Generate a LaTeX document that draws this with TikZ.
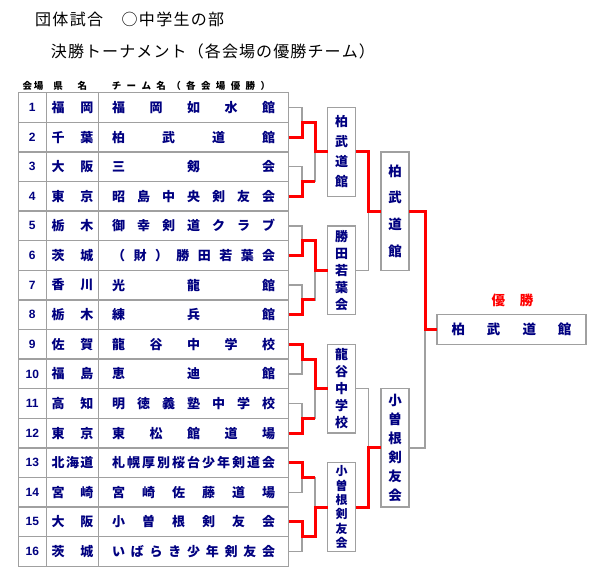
\documentclass[tikz,border=0pt]{standalone}
\usepackage{fontspec}
\setmainfont{Noto Sans CJK JP}
\newfontfamily\numfont{Liberation Sans}
\usetikzlibrary{calc}
\definecolor{tnavy}{HTML}{000080}
\definecolor{tgray}{HTML}{A0A0A0}
\definecolor{tred}{HTML}{FF0000}
% letters spread evenly over a fixed width
\makeatletter
\newcommand{\spaced}[2]{\makebox[#1]{\expandafter\spaced@next#2\relax}}
\def\spaced@next#1{#1\futurelet\spaced@tok\spaced@test}
\def\spaced@test{\ifx\spaced@tok\relax\expandafter\@gobble\else\hfill\expandafter\spaced@next\fi}
\makeatother
\tikzset{
  cell/.style={draw=tgray, line width=1.5pt, minimum height=29.6pt, inner sep=0pt,
               outer sep=0pt, text=tnavy, font=\bfseries\fontsize{13}{14}\selectfont},
  numcell/.style={cell, minimum width=28pt, font=\numfont\bfseries\fontsize{12}{12}\selectfont},
  prefcell/.style={cell, minimum width=52.4pt},
  teamcell/.style={cell, minimum width=190pt},
  winbox/.style={draw=tgray, line width=1.5pt, fill=white, minimum width=28pt, inner sep=0pt,
                 outer sep=0pt, align=center, text=tnavy},
  lose/.style={draw=tgray, line width=1.5pt},
  win/.style={draw=tred, line width=3pt},
  hdr/.style={font=\bfseries\fontsize{9.5}{11}\selectfont, inner sep=0pt},
  ttl/.style={font=\fontsize{16}{18}\selectfont, inner sep=0pt, anchor=west},
}
\begin{document}
\begin{tikzpicture}[x=1pt, y=-1pt]
  \useasboundingbox (0,0) rectangle (600,580);

  \node[ttl] (title) at (35,19) {\spaced{189pt}{団体試合　○中学生の部}};
  \node[ttl] (subtitle) at (50.7,51) {\spaced{324pt}{決勝トーナメント（各会場の優勝チーム）}};

  \node[hdr] (hvenue) at (33,86) {\spaced{20.6pt}{会場}};
  \node[hdr] (hpref) at (70.2,86) {\spaced{33.7pt}{県名}};
  \node[hdr] (hteam) at (190.9,86) {\spaced{158.3pt}{チーム名（各会場優勝）}};

  % table rows
  \foreach \i/\ken/\team in {1/福岡/福岡如水館, 2/千葉/柏武道館, 3/大阪/三剱会,
      4/東京/昭島中央剣友会, 5/栃木/御幸剣道クラブ, 6/茨城/（財）勝田若葉会,
      7/香川/光龍館, 8/栃木/練兵館, 9/佐賀/龍谷中学校, 10/福島/恵迪館,
      11/高知/明徳義塾中学校, 12/東京/東松館道場, 13/北海道/札幌厚別桜台少年剣道会,
      14/宮崎/宮崎佐藤道場, 15/大阪/小曽根剣友会, 16/茨城/いばらき少年剣友会} {
    \node[numcell] (n\i) at (32.3,{92.7+(\i-0.5)*29.6}) {\i};
    \node[prefcell] (p\i) at (72.5,{92.7+(\i-0.5)*29.6}) {\spaced{41.6pt}{\ken}};
    \node[teamcell] (t\i) at (193.7,{92.7+(\i-0.5)*29.6}) {\spaced{163pt}{\team}};
  }

  % junctions
  \foreach \p in {1,...,8} \coordinate (j\p) at (302,{92.7+(2*\p-1)*29.6});
  \foreach \q in {1,...,4} \coordinate (k\q) at (315,{92.7+(4*\q-2)*29.6});
  \coordinate (l1) at (368.3,{92.7+4*29.6});
  \coordinate (l2) at (368.3,{92.7+12*29.6});
  \coordinate (m) at (425,{92.7+8*29.6});

  % venue winners, round two, final
  \node[winbox, minimum height=88.8pt, font=\bfseries\fontsize{13}{20}\selectfont] (b1) at (341.7,{92.7+2*29.6}) {柏\\武\\道\\館};
  \node[winbox, minimum height=88.8pt, font=\bfseries\fontsize{13}{17}\selectfont] (b2) at (341.7,{92.7+6*29.6}) {勝\\田\\若\\葉\\会};
  \node[winbox, minimum height=88.8pt, font=\bfseries\fontsize{13}{17}\selectfont] (b3) at (341.7,{92.7+10*29.6}) {龍\\谷\\中\\学\\校};
  \node[winbox, minimum height=88.8pt, font=\bfseries\fontsize{12}{14.3}\selectfont] (b4) at (341.7,{92.7+14*29.6}) {小\\曽\\根\\剣\\友\\会};
  \node[winbox, minimum height=118.4pt, font=\bfseries\fontsize{13.5}{26.7}\selectfont] (c1) at (395,{92.7+4*29.6}) {柏\\武\\道\\館};
  \node[winbox, minimum height=118.4pt, font=\bfseries\fontsize{13.5}{19}\selectfont] (c2) at (395,{92.7+12*29.6}) {小\\曽\\根\\剣\\友\\会};
  \node[winbox, minimum width=149pt, minimum height=30pt, font=\bfseries\fontsize{13.5}{15}\selectfont] (champ) at (511.5,{92.7+8*29.6}) {\spaced{120pt}{柏武道館}};
  \node[font=\bfseries\fontsize{13.5}{15}\selectfont, text=tred, inner sep=0pt] (champlbl) at (512.5,300) {\spaced{41.6pt}{優勝}};

  % bracket
  \foreach \i in {1,...,16} {
    \pgfmathtruncatemacro\p{(\i+1)/2}
    \draw[lose] (t\i.east) -| (j\p);
  }
  \foreach \p in {1,...,8} {
    \pgfmathtruncatemacro\q{(\p+1)/2}
    \draw[lose] (j\p) -| (k\q);
  }
  \foreach \q in {1,...,4} {
    \pgfmathtruncatemacro\h{(\q+1)/2}
    \draw[lose] (k\q) -- (b\q.west);
    \draw[lose] (b\q.east) -| (l\h);
  }
  \foreach \h in {1,2} {
    \draw[lose] (l\h) -- (c\h.west);
    \draw[lose] (c\h.east) -| (m);
  }
  \draw[lose] (m) -- (champ.west);

  % winners
  \draw[win] (t2.east) -| (j1) -| (k1) -- (b1.west);
  \draw[win] (t4.east) -| (j2) -- (j2 -| k1);
  \draw[win] (t6.east) -| (j3) -| (k2) -- (b2.west);
  \draw[win] (t8.east) -| (j4) -- (j4 -| k2);
  \draw[win] (t9.east) -| (j5) -| (k3) -- (b3.west);
  \draw[win] (t12.east) -| (j6) -- (j6 -| k3);
  \draw[win] (t13.east) -| (j7) -- (j7 -| k4);
  \draw[win] (t15.east) -| (j8) -| (k4) -- (b4.west);
  \draw[win] (b1.east) -| (l1) -- (c1.west);
  \draw[win] (b4.east) -| (l2) -- (c2.west);
  \draw[win] (c1.east) -| (m) -- (champ.west);
\end{tikzpicture}
\end{document}
